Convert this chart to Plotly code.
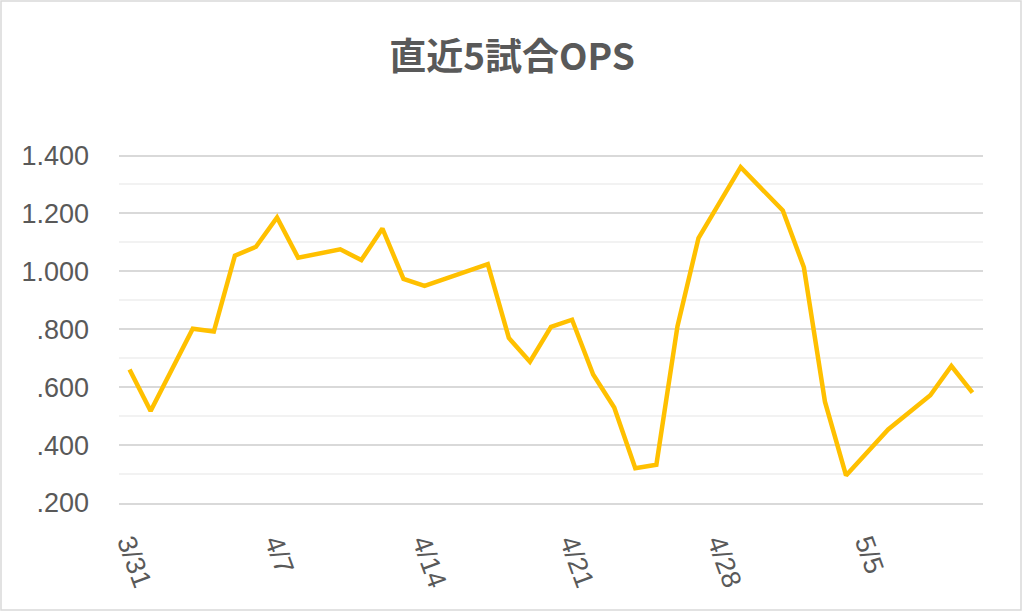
"""直近5試合OPS line chart"""

import plotly.graph_objects as go

# game dates and rolling 5-game OPS
dates = ["2019-03-31", "2019-04-01", "2019-04-03", "2019-04-04", "2019-04-05",
         "2019-04-06", "2019-04-07", "2019-04-08", "2019-04-10", "2019-04-11",
         "2019-04-12", "2019-04-13", "2019-04-14", "2019-04-17", "2019-04-18",
         "2019-04-19", "2019-04-20", "2019-04-21", "2019-04-22", "2019-04-23",
         "2019-04-24", "2019-04-25", "2019-04-26", "2019-04-27", "2019-04-29",
         "2019-05-01", "2019-05-02", "2019-05-03", "2019-05-04", "2019-05-06",
         "2019-05-08", "2019-05-09", "2019-05-10"]
ops = [0.661, 0.518, 0.802, 0.792, 1.054,
       1.085, 1.186, 1.047, 1.076, 1.039,
       1.148, 0.974, 0.950, 1.025, 0.770,
       0.688, 0.808, 0.833, 0.644, 0.530,
       0.320, 0.332, 0.810, 1.115, 1.360,
       1.210, 1.014, 0.550, 0.295, 0.454,
       0.572, 0.673, 0.581]

tick_dates = ["2019-03-31", "2019-04-07", "2019-04-14", "2019-04-21", "2019-04-28", "2019-05-05"]
tick_text = ["3/31", "4/7", "4/14", "4/21", "4/28", "5/5"]

y_ticks = [0.2, 0.4, 0.6, 0.8, 1.0, 1.2, 1.4]
y_text = [".200", ".400", ".600", ".800", "1.000", "1.200", "1.400"]

fig = go.Figure()
fig.add_trace(go.Scatter(x=dates, y=ops, mode="lines",
                         line=dict(color="#FFC000", width=4.5),
                         hoverinfo="x+y"))

# plot area is 119..983 x 126..503 px
fig.update_layout(
    width=1024, height=613,
    margin=dict(l=119, r=41, t=126, b=110),
    paper_bgcolor="white", plot_bgcolor="white",
    font=dict(family="Liberation Sans", size=27, color="#595959"),
    showlegend=False,
    title=dict(text="<b>直近5試合OPS</b>", x=0.5, xanchor="center", y=0.907, yanchor="middle",
               font=dict(family="Noto Sans CJK JP", size=37, color="#595959")),
    xaxis=dict(type="date", range=["2019-03-30 12:00", "2019-05-10 12:00"],
               tickvals=tick_dates, ticktext=tick_text, tickangle=70,
               showgrid=False, zeroline=False, ticks="",
               showline=True, linecolor="#D9D9D9", linewidth=1.5,
               ticklabelstandoff=12),
    yaxis=dict(range=[0.2, 1.502], tickvals=y_ticks, ticktext=y_text,
               showgrid=True, gridcolor="#D9D9D9", gridwidth=1.5,
               zeroline=False, showline=False, ticks="",
               ticklabelstandoff=29,
               minor=dict(dtick=0.1, tick0=0.1, showgrid=True, gridcolor="#F2F2F2", gridwidth=1.5)),
)

# thin outline round the whole chart
fig.add_shape(type="rect", xref="paper", yref="paper",
              x0=-118 / 864, x1=902 / 864, y0=-107 / 377, y1=502 / 377,
              line=dict(color="#D9D9D9", width=1.5), fillcolor="rgba(0,0,0,0)")

# drop the page's default body margin so the chart sits at 0,0
fig.write_html("out.html", config={"displayModeBar": False},
               post_script="document.body.style.margin='0';")
